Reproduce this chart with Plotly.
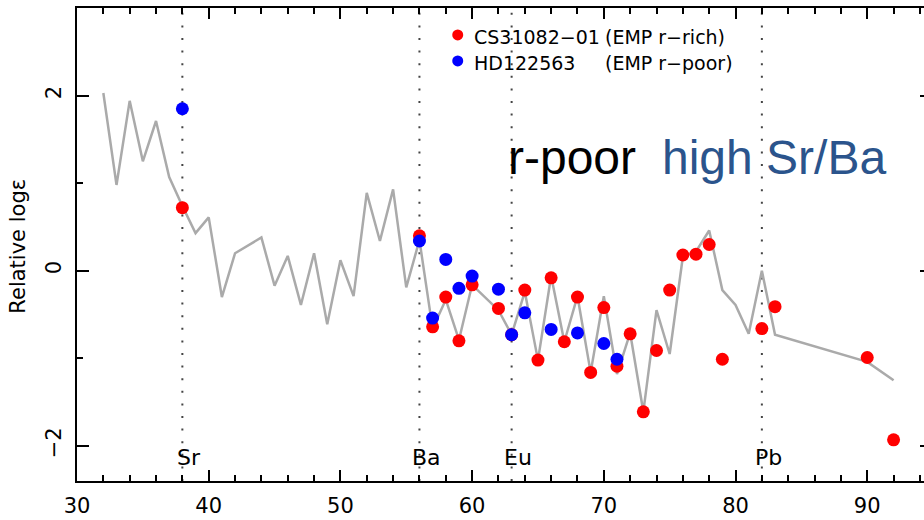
import plotly.graph_objects as go

# Scaled solar r-process pattern (grey line): atomic number, relative log eps
line_z = [32, 33, 34, 35, 36, 37, 38, 39, 40, 41, 42, 44, 45, 46, 47, 48, 49, 50,
          51, 52, 53, 54, 55, 56, 57, 58, 59, 60, 62, 63, 64, 65, 66, 67, 68, 69,
          70, 71, 72, 73, 74, 75, 76, 77, 78, 79, 80, 81, 82, 83, 90, 92]
line_v = [2.03, 0.98, 1.94, 1.25, 1.71, 1.07, 0.74, 0.43, 0.61, -0.30, 0.20, 0.38,
          -0.17, 0.17, -0.39, 0.20, -0.61, 0.12, -0.29, 0.89, 0.34, 0.93, -0.19,
          0.35, -0.66, -0.33, -0.79, -0.16, -0.45, -0.73, -0.24, -1.02, -0.06,
          -0.81, -0.29, -1.16, -0.29, -1.18, -0.71, -1.61, -0.45, -0.95, 0.16,
          0.22, 0.46, -0.22, -0.39, -0.72, 0.00, -0.73, -1.04, -1.25]

# CS31082-01 (EMP r-rich), red
rich_z = [38, 56, 57, 58, 59, 60, 62, 63, 64, 65, 66, 67, 68, 69, 70, 71, 72, 73,
          74, 75, 76, 77, 78, 79, 82, 83, 90, 92]
rich_v = [0.72, 0.40, -0.64, -0.30, -0.80, -0.16, -0.43, -0.73, -0.22, -1.02,
          -0.08, -0.81, -0.30, -1.16, -0.42, -1.09, -0.72, -1.61, -0.91, -0.22,
          0.18, 0.19, 0.30, -1.01, -0.66, -0.41, -0.99, -1.93]

# HD122563 (EMP r-poor), blue
poor_z = [38, 56, 57, 58, 59, 60, 62, 63, 64, 66, 68, 70, 71]
poor_v = [1.85, 0.34, -0.54, 0.13, -0.20, -0.06, -0.21, -0.73, -0.48, -0.67,
          -0.71, -0.83, -1.01]

# Marked elements
elem_names = ["Sr", "Ba", "Eu", "Pb"]
elem_z = [38, 56, 63, 82]

x_ticks = [30, 40, 50, 60, 70, 80, 90]
y_ticks = [-2, 0, 2]

FONT = "DejaVu Sans"

fig = go.Figure()

fig.add_trace(go.Scatter(x=line_z, y=line_v, mode="lines",
                         line=dict(color="#aaaaaa", width=2.5),
                         hoverinfo="skip", showlegend=False))
fig.add_trace(go.Scatter(x=rich_z, y=rich_v, mode="markers",
                         marker=dict(color="#ff0000", size=13, line=dict(width=0)),
                         name="CS31082-01 (EMP r-rich)", showlegend=False))
fig.add_trace(go.Scatter(x=poor_z, y=poor_v, mode="markers",
                         marker=dict(color="#0000ff", size=13, line=dict(width=0)),
                         name="HD122563 (EMP r-poor)", showlegend=False))
# empty trace to activate the right-hand tick axis
fig.add_trace(go.Scatter(x=[], y=[], yaxis="y2", showlegend=False, hoverinfo="skip"))

shapes = []
annotations = []
for name, z in zip(elem_names, elem_z):
    shapes.append(dict(type="line", xref="x", yref="paper", x0=z, x1=z, y0=0, y1=1,
                       line=dict(color="#444444", width=2, dash="2px,10.6px"),
                       layer="below"))
    annotations.append(dict(x=z + 0.5, y=-2.13, xref="x", yref="y", text=name,
                            showarrow=False, xanchor="center", yanchor="middle",
                            font=dict(family=FONT, size=22, color="black")))

# Legend (manual)
leg_rows = [("#ff0000", "CS31082\u221201", "(EMP r\u2212rich)", 0.943, 0.9387),
            ("#0000ff", "HD122563", "(EMP r\u2212poor)", 0.888, 0.8837)]
for col, nm, desc, fy_dot, fy_txt in leg_rows:
    shapes.append(dict(type="circle", xref="paper", yref="paper",
                       xsizemode="pixel", ysizemode="pixel",
                       xanchor=0.4495, yanchor=fy_dot, x0=-5.5, x1=5.5, y0=-5.5, y1=5.5,
                       fillcolor=col, line=dict(width=0)))
    annotations.append(dict(x=0.4664, y=fy_txt, xref="paper", yref="paper", text=nm,
                            showarrow=False, xanchor="left", yanchor="middle",
                            font=dict(family=FONT, size=19, color="black")))
    annotations.append(dict(x=0.6205, y=fy_txt, xref="paper", yref="paper", text=desc,
                            showarrow=False, xanchor="left", yanchor="middle",
                            font=dict(family=FONT, size=19, color="black")))

annotations.append(dict(x=0.5069, y=0.683, xref="paper", yref="paper", text="r-poor",
                        showarrow=False, xanchor="left", yanchor="middle",
                        font=dict(family="Liberation Sans", size=48, color="black")))
annotations.append(dict(x=0.6885, y=0.683, xref="paper", yref="paper", text="high Sr/Ba",
                        showarrow=False, xanchor="left", yanchor="middle",
                        font=dict(family="Liberation Sans", size=48, color="#2b548c")))
annotations.append(dict(x=-0.0697, y=0.4975, xref="paper", yref="paper",
                        text="Relative log\u03b5", textangle=-90, showarrow=False,
                        xanchor="center", yanchor="middle",
                        font=dict(family=FONT, size=21, color="black")))

fig.update_layout(
    width=924, height=520,
    margin=dict(l=77, r=0, t=8, b=39),
    plot_bgcolor="white", paper_bgcolor="white",
    showlegend=False,
    shapes=shapes, annotations=annotations,
    xaxis=dict(range=[30, 94.31], tickmode="array", tickvals=x_ticks,
               ticks="inside", ticklen=11, tickwidth=1.5, tickcolor="black",
               minor=dict(dtick=2, tick0=30, ticks="inside", ticklen=6,
                          tickwidth=1.5, tickcolor="black"),
               showline=True, linewidth=1.5, linecolor="black", mirror="ticks",
               showgrid=False, zeroline=False, ticklabelstandoff=5,
               tickfont=dict(family=FONT, size=21, color="black")),
    yaxis=dict(range=[-2.4, 3.0], tickmode="array", tickvals=y_ticks,
               ticktext=["\u22122", "0", "2"],
               ticks="inside", ticklen=12, tickwidth=1.5, tickcolor="black",
               minor=dict(dtick=1, tick0=0, ticks="inside", ticklen=6,
                          tickwidth=1.5, tickcolor="black"),
               showline=True, linewidth=1.5, linecolor="black",
               showgrid=False, zeroline=False, tickangle=-90, ticklabelstandoff=6,
               tickfont=dict(family=FONT, size=21, color="black")),
    yaxis2=dict(range=[-2.4, 3.0], overlaying="y", side="right", anchor="x",
                tickmode="array", tickvals=y_ticks, showticklabels=False,
                ticks="inside", ticklen=4, tickwidth=1.5, tickcolor="black",
                showline=False, showgrid=False, zeroline=False),
)

fig.write_html("out.html")
